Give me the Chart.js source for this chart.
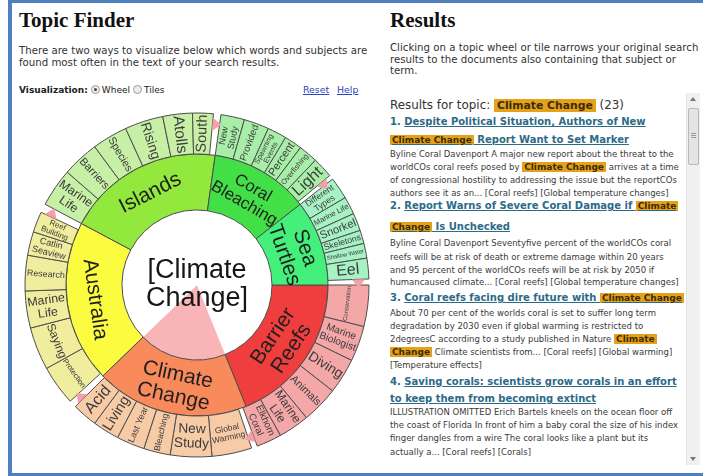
<!DOCTYPE html>
<html>
<head>
<meta charset="utf-8">
<script src="https://cdn.jsdelivr.net/npm/chart.js@4"></script>
<style>
body{margin:0;width:703px;height:476px;overflow:hidden;background:#fff;position:relative;font-family:"DejaVu Sans",Verdana,sans-serif;color:#333}
.bar{position:absolute;background:#4f7fbd}
.head{position:absolute;margin:0;font:bold 21px/21px "Liberation Serif",serif;color:#111}
.intro{position:absolute;font-size:10.2px;line-height:11.7px;color:#333;white-space:nowrap}
.vis{position:absolute;left:19px;top:84px;font-size:9px;line-height:12px;white-space:nowrap;color:#222}
.radio{display:inline-block;width:7px;height:7px;border-radius:50%;border:1px solid #9a9a9a;background:#eee;vertical-align:-1px;margin:0 2px 0 3px;position:relative}
.radio.on::after{content:"";position:absolute;left:2px;top:2px;width:3px;height:3px;border-radius:50%;background:#444}
.link{position:absolute;top:84px;font-size:9.4px;line-height:12px;color:#2b3fc2;text-decoration:underline}
.ln{position:absolute;left:390px;white-space:nowrap}
.tt{font-weight:bold;font-size:10px;height:16px;line-height:16px;color:#2c6a87}
.tt u{text-decoration-color:#2c6a87}
.bd{font-size:8.5px;height:12px;line-height:12px;color:#3a3a3a}
.hl{background:#e5a11a;color:#3b2c05;font-weight:bold;font-size:9px;padding:0 2px}
#wheel{position:absolute;left:17px;top:105px;width:360px;height:360px}
.track{position:absolute;left:686px;top:93px;width:13px;height:372px;background:#f0f0f0;border-left:1px solid #e3e3e3}
.thumb{position:absolute;left:688px;top:108px;width:9px;height:55px;background:#e4e4e4;border:1px solid #b8b8b8;border-radius:2px}
.grip{position:absolute;left:691px;width:5px;height:1px;background:#9a9a9a}
.arrow{position:absolute;left:690px;width:0;height:0;border-left:3px solid transparent;border-right:3px solid transparent}
</style>
</head>
<body>
<div class="bar" style="left:8px;top:0;width:695px;height:3px"></div>
<div class="bar" style="left:8px;top:0;width:4px;height:476px"></div>
<div class="bar" style="left:8px;top:473px;width:695px;height:3px"></div>

<h1 class="head" style="left:19px;top:10px">Topic Finder</h1>
<div class="intro" style="left:19px;top:45px">There are two ways to visualize below which words and subjects are<br>found most often in the text of your search results.</div>
<div class="vis"><b>Visualization:</b><span class="radio on"></span>Wheel<span class="radio"></span>Tiles</div>
<div class="link" style="left:303px">Reset</div>
<div class="link" style="left:337px">Help</div>

<div id="wheel"><canvas id="wheelCanvas" width="360" height="360"></canvas></div>

<h1 class="head" style="left:390px;top:10px">Results</h1>
<div class="intro" style="left:390px;top:42px">Clicking on a topic wheel or tile narrows your original search<br>results to the documents also containing that subject or<br>term.</div>

<div class="track"></div>
<div class="arrow" style="top:97px;border-bottom:4px solid #777"></div>
<div class="thumb"></div>
<div class="grip" style="top:133px"></div>
<div class="grip" style="top:135px"></div>
<div class="grip" style="top:137px"></div>
<div class="arrow" style="top:457px;border-top:4px solid #777"></div>

<div class="ln" style="top:97px;font-size:11.9px;line-height:16px;color:#333">Results for topic: <span class="hl" style="font-size:10.8px;padding:0 3px">Climate Change</span> (23)</div>

<div class="ln tt" style="top:114px">1. <u>Despite Political Situation, Authors of New</u></div>
<div class="ln tt" style="top:132px"><u><span class="hl">Climate Change</span> Report Want to Set Marker</u></div>
<div class="ln bd" style="top:148px">Byline Coral Davenport A major new report about the threat to the</div>
<div class="ln bd" style="top:161px">worldCOs coral reefs posed by <span class="hl">Climate Change</span> arrives at a time</div>
<div class="ln bd" style="top:174px">of congressional hostility to addressing the issue but the reportCOs</div>
<div class="ln bd" style="top:187px">authors see it as an... [Coral reefs] [Global temperature changes]</div>

<div class="ln tt" style="top:198px">2. <u>Report Warns of Severe Coral Damage if <span class="hl">Climate</span></u></div>
<div class="ln tt" style="top:219px"><u><span class="hl">Change</span> Is Unchecked</u></div>
<div class="ln bd" style="top:237px">Byline Coral Davenport Seventyfive percent of the worldCOs coral</div>
<div class="ln bd" style="top:251px">reefs will be at risk of death or extreme damage within 20 years</div>
<div class="ln bd" style="top:264px">and 95 percent of the worldCOs reefs will be at risk by 2050 if</div>
<div class="ln bd" style="top:276px">humancaused climate... [Coral reefs] [Global temperature changes]</div>

<div class="ln tt" style="top:290px">3. <u>Coral reefs facing dire future with <span class="hl">Climate Change</span></u></div>
<div class="ln bd" style="top:307px">About 70 per cent of the worlds coral is set to suffer long term</div>
<div class="ln bd" style="top:320px">degradation by 2030 even if global warming is restricted to</div>
<div class="ln bd" style="top:333px">2degreesC according to a study published in Nature <span class="hl">Climate</span></div>
<div class="ln bd" style="top:346px"><span class="hl">Change</span> Climate scientists from... [Coral reefs] [Global warming]</div>
<div class="ln bd" style="top:359px">[Temperature effects]</div>

<div class="ln tt" style="top:374px">4. <u>Saving corals: scientists grow corals in an effort</u></div>
<div class="ln tt" style="top:391px"><u>to keep them from becoming extinct</u></div>
<div class="ln bd" style="top:406px">ILLUSTRATION OMITTED Erich Bartels kneels on the ocean floor off</div>
<div class="ln bd" style="top:419px">the coast of Florida In front of him a baby coral the size of his index</div>
<div class="ln bd" style="top:432px">finger dangles from a wire The coral looks like a plant but its</div>
<div class="ln bd" style="top:446px">actually a... [Coral reefs] [Corals]</div>

<script>
// Rueda de temas: anillo interior (temas) y anillo exterior (términos), en grados
const topicLabels = ['Barrier\nReefs', 'Climate\nChange', 'Australia', 'Islands', 'Coral\nBleaching', 'Sea\nTurtles'];
const topicValues = [68, 68, 72, 70, 44, 38];
const selectedTopic = 1;
const centerLabel = '[Climate\nChange]';

const barrierTerms = ['Conservation', 'Marine\nBiologist', 'Diving', 'Animals', 'Marine\nLife', 'Elkhorn\nCoral'];
const barrierValues = [14, 12, 12, 12.5, 10.5, 8.5];
const climateTerms = ['Global\nWarming', 'New\nStudy', 'Bleaching', 'Last Year', 'Living', 'Acid'];
const climateValues = [13.5, 14, 9, 9.5, 9, 8.5];
const australiaTerms = ['Protection', 'Saying', 'Marine\nLife', 'Research', 'Catlin\nSeaview', 'Reef\nBuilding'];
const australiaValues = [13.5, 14.5, 12.5, 12, 8, 7];
const islandsTerms = ['Marine\nLife', 'Barriers', 'Species', 'Rising', 'Atolls', 'South'];
const islandsValues = [13, 12.5, 12, 13, 10, 7];
const bleachingTerms = ['New\nStudy', 'Provided', 'Spawning\nEvents', 'Percent', 'Overfishing', 'Light'];
const bleachingValues = [8, 8.5, 6.5, 6, 6.5, 7];
const turtleTerms = ['Different\nTypes', 'Marine Life', 'Snorkel', 'Skeletons', 'Shallow Water', 'Eel'];
const turtleValues = [7.5, 6, 6, 4.5, 5, 7];
const groupGaps = [2, 2.5, 3, 2.5, 1.5, 2];

// colores
const topicColors = ['#f03e3e', '#f98a5b', '#fbfb3f', '#92e83c', '#42e046', '#44ef7c'];
const termColors = ['#f4a7a7', '#f8cba7', '#f1ed9f', '#c7efa6', '#a9eea8', '#a7f2c4'];
const flatTerms = ['0:Conservation', '1:Global\nWarming', '1:New\nStudy', '2:Protection', '2:Saying'];
const FONT = '"Liberation Sans", Arial, sans-serif';

const termGroups = [
    [barrierTerms, barrierValues], [climateTerms, climateValues], [australiaTerms, australiaValues],
    [islandsTerms, islandsValues], [bleachingTerms, bleachingValues], [turtleTerms, turtleValues]
];
const outerLabels = [], outerValues = [], outerColors = [], outerBorders = [], outerGroup = [];
termGroups.forEach(([terms, vals], g) => {
    terms.forEach((t, i) => {
        outerLabels.push(t); outerValues.push(vals[i]);
        outerColors.push(termColors[g]); outerBorders.push(1); outerGroup.push(g);
    });
    // hueco entre grupos
    outerLabels.push(''); outerValues.push(groupGaps[g]);
    outerColors.push('rgba(255,255,255,0)'); outerBorders.push(0); outerGroup.push(g);
});

// cuña del tema seleccionado en el centro
const before = topicValues.slice(0, selectedTopic).reduce((a, b) => a + b, 0);
const wedgeValues = [before, topicValues[selectedTopic], 360 - before - topicValues[selectedTopic]];

function getArc(arc) {
    return arc.getProps(['x', 'y', 'startAngle', 'endAngle', 'innerRadius', 'outerRadius'], true);
}

function placeLabel(ctx, p, text, flat, cap, color, pad) {
    const lines = text.split('\n');
    const span = p.endAngle - p.startAngle;
    const mid = (p.startAngle + p.endAngle) / 2;
    const rm = (p.innerRadius + p.outerRadius) / 2;
    const depth = p.outerRadius - p.innerRadius - pad;
    ctx.font = '10px ' + FONT;
    const w1 = Math.max(...lines.map(l => ctx.measureText(l).width)) / 10;
    let size, rot;
    if (flat) {
        const chord = 2 * rm * Math.sin(span / 2) * 0.95;
        size = Math.min(cap, chord / w1, depth / (lines.length * 1.1));
        rot = mid + Math.PI / 2;
    } else {
        const thick = rm * span * 0.95;
        size = Math.min(cap, depth / w1, thick / (lines.length * 1.1));
        rot = mid;
    }
    if (Math.cos(rot) < 0) rot += Math.PI;
    ctx.save();
    ctx.translate(p.x + rm * Math.cos(mid), p.y + rm * Math.sin(mid));
    ctx.rotate(rot);
    ctx.font = size.toFixed(1) + 'px ' + FONT;
    ctx.fillStyle = color;
    ctx.textAlign = 'center';
    ctx.textBaseline = 'middle';
    const lh = size * 1.05;
    lines.forEach((l, i) => ctx.fillText(l, 0, (i - (lines.length - 1) / 2) * lh));
    ctx.restore();
}

function drawMarker(ctx, p) {
    const a = p.startAngle;
    const r1 = p.outerRadius - 17, r2 = p.outerRadius - 4, rm = (r1 + r2) / 2;
    const tx = -Math.sin(a), ty = Math.cos(a);
    ctx.beginPath();
    ctx.moveTo(p.x + r1 * Math.cos(a), p.y + r1 * Math.sin(a));
    ctx.lineTo(p.x + r2 * Math.cos(a), p.y + r2 * Math.sin(a));
    ctx.lineTo(p.x + rm * Math.cos(a) + 9 * tx, p.y + rm * Math.sin(a) + 9 * ty);
    ctx.closePath();
    ctx.fillStyle = '#f59fa9';
    ctx.fill();
}

const wheelLabels = {
    id: 'wheelLabels',
    afterDatasetsDraw(chart) {
        const ctx = chart.ctx;
        chart.getDatasetMeta(0).data.forEach((arc, i) => {
            const p = getArc(arc);
            if (!outerLabels[i]) { drawMarker(ctx, p); return; }
            const flat = flatTerms.includes(outerGroup[i] + ':' + outerLabels[i]);
            placeLabel(ctx, p, outerLabels[i], flat, 16, '#3b3b3b', 3);
        });
        chart.getDatasetMeta(1).data.forEach((arc, i) => {
            placeLabel(ctx, getArc(arc), topicLabels[i], true, 21, '#1f1f1f', 8);
        });
        // texto central
        const c = getArc(chart.getDatasetMeta(2).data[0]);
        ctx.save();
        ctx.font = '27px ' + FONT;
        ctx.fillStyle = '#161616';
        ctx.textAlign = 'center';
        ctx.textBaseline = 'middle';
        centerLabel.split('\n').forEach((l, i) => ctx.fillText(l, c.x, c.y - 14 + i * 28));
        ctx.restore();
    }
};

new Chart(document.getElementById('wheelCanvas').getContext('2d'), {
    type: 'doughnut',
    data: {
        labels: outerLabels,
        datasets: [
            {data: outerValues, backgroundColor: outerColors, borderColor: '#4d4d4d', borderWidth: outerBorders, weight: 41},
            {data: topicValues, backgroundColor: topicColors, borderColor: '#4d4d4d', borderWidth: 1, weight: 56},
            {data: wedgeValues, backgroundColor: ['#ffffff', '#f8b4b7', '#ffffff'], borderWidth: 0, weight: 75}
        ]
    },
    options: {
        responsive: false,
        animation: false,
        rotation: 90,
        cutout: 0,
        radius: 172,
        layout: {padding: 0},
        events: [],
        plugins: {legend: {display: false}, tooltip: {enabled: false}}
    },
    plugins: [wheelLabels]
});
</script>
</body>
</html>
